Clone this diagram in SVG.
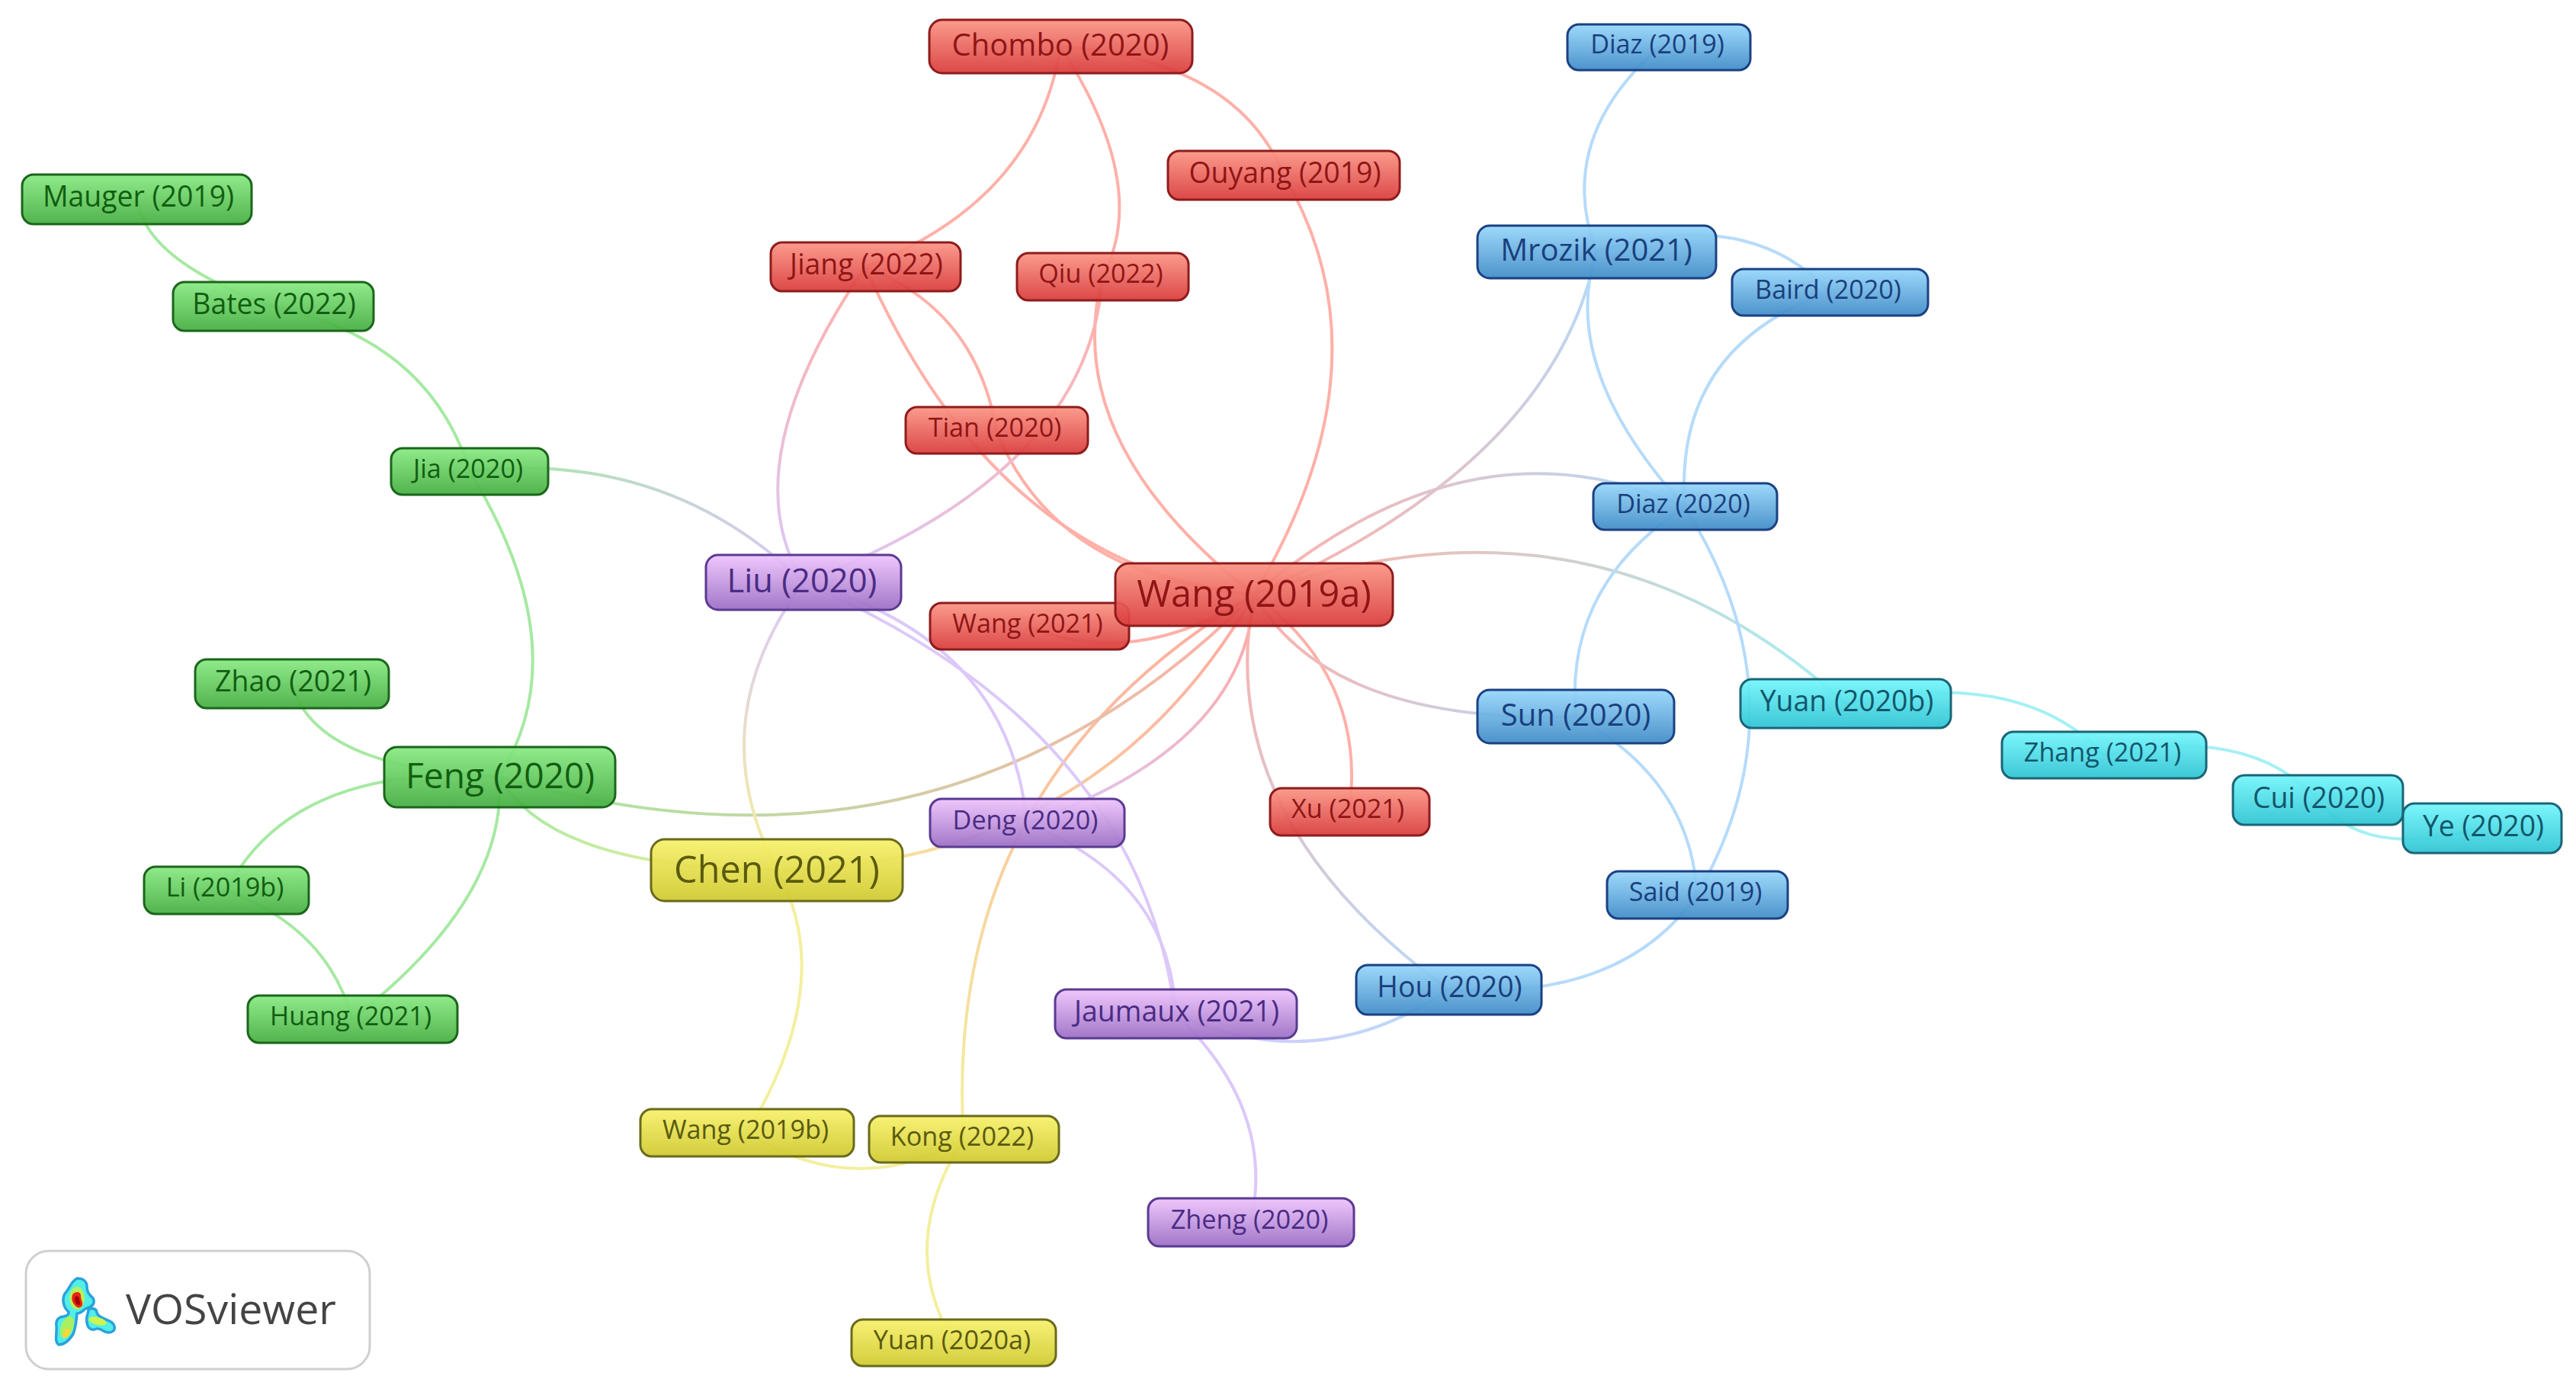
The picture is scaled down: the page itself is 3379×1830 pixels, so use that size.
<svg xmlns="http://www.w3.org/2000/svg" width="3379" height="1830" viewBox="0 0 3379 1830">
<style>
text{font-family:"Open Sans","Noto Sans","Liberation Sans",sans-serif;text-anchor:middle}
.e{fill:none;stroke-width:4;stroke-linecap:round}
.er{stroke:#ffb0a8}.eb{stroke:#b6dbfa}.eg{stroke:#a6e9a2}.ep{stroke:#dcc8f9}.ey{stroke:#f3ef9e}.ec{stroke:#a4f0f4}
.n{stroke-width:3;fill-opacity:.93}
.red rect{fill:url(#fr);stroke:#8e1c1c}.red text{fill:#8f1515}
.blue rect{fill:url(#fb);stroke:#1b4183}.blue text{fill:#1a3f7d}
.green rect{fill:url(#fg);stroke:#1b661b}.green text{fill:#115e11}
.purple rect{fill:url(#fp);stroke:#5a3a92}.purple text{fill:#4b2b84}
.yellow rect{fill:url(#fy);stroke:#6a6a1c}.yellow text{fill:#5a5a0e}
.cyan rect{fill:url(#fc);stroke:#1a6577}.cyan text{fill:#12566a}
.s1{font-size:34.2px;transform:translateX(-2px)}.s2{font-size:37.4px;transform:translateX(1.5px)}.s3{font-size:40px}.s4{font-size:43.5px;transform:translateX(-2px)}.s5{font-size:46.2px;transform:translateX(1px)}.s6{font-size:48.6px}
</style>
<defs>
<linearGradient id="fr" x1="0" y1="0" x2="0" y2="1"><stop offset="0" stop-color="#fb9485"/><stop offset="1" stop-color="#d93a3a"/></linearGradient>
<linearGradient id="fb" x1="0" y1="0" x2="0" y2="1"><stop offset="0" stop-color="#96d6fb"/><stop offset="1" stop-color="#3e8bc7"/></linearGradient>
<linearGradient id="fg" x1="0" y1="0" x2="0" y2="1"><stop offset="0" stop-color="#88e982"/><stop offset="1" stop-color="#44ae40"/></linearGradient>
<linearGradient id="fp" x1="0" y1="0" x2="0" y2="1"><stop offset="0" stop-color="#eec3fc"/><stop offset="1" stop-color="#9a6dc4"/></linearGradient>
<linearGradient id="fy" x1="0" y1="0" x2="0" y2="1"><stop offset="0" stop-color="#f7f16a"/><stop offset="1" stop-color="#cfc92e"/></linearGradient>
<linearGradient id="fc" x1="0" y1="0" x2="0" y2="1"><stop offset="0" stop-color="#72f6fb"/><stop offset="1" stop-color="#2dc3d3"/></linearGradient>
<linearGradient id="g1" gradientUnits="userSpaceOnUse" x1="1135" y1="350" x2="1054" y2="764"><stop offset="0" stop-color="#ffb0a8"/><stop offset="1" stop-color="#dcc8f9"/></linearGradient>
<linearGradient id="g2" gradientUnits="userSpaceOnUse" x1="1446" y1="363" x2="1054" y2="764"><stop offset="0" stop-color="#ffb0a8"/><stop offset="1" stop-color="#dcc8f9"/></linearGradient>
<linearGradient id="g3" gradientUnits="userSpaceOnUse" x1="1645" y1="780" x2="1347" y2="1080"><stop offset="0" stop-color="#ffa8a0"/><stop offset="1" stop-color="#dcc8f9"/></linearGradient>
<linearGradient id="g4" gradientUnits="userSpaceOnUse" x1="1645" y1="780" x2="1019" y2="1141"><stop offset="0" stop-color="#ffa8a0"/><stop offset="1" stop-color="#f3ef9e"/></linearGradient>
<linearGradient id="g5" gradientUnits="userSpaceOnUse" x1="1645" y1="780" x2="1264" y2="1494"><stop offset="0" stop-color="#ffa8a0"/><stop offset="1" stop-color="#f3ef9e"/></linearGradient>
<linearGradient id="g6" gradientUnits="userSpaceOnUse" x1="1645" y1="780" x2="655" y2="1019"><stop offset="0" stop-color="#ffb0a8"/><stop offset="1" stop-color="#a6e9a2"/></linearGradient>
<linearGradient id="g7" gradientUnits="userSpaceOnUse" x1="1645" y1="780" x2="1900" y2="1298"><stop offset="0" stop-color="#ffb0a8"/><stop offset="1" stop-color="#b6dbfa"/></linearGradient>
<linearGradient id="g8" gradientUnits="userSpaceOnUse" x1="1645" y1="780" x2="2067" y2="940"><stop offset="0" stop-color="#ffb0a8"/><stop offset="1" stop-color="#b6dbfa"/></linearGradient>
<linearGradient id="g9" gradientUnits="userSpaceOnUse" x1="1645" y1="780" x2="2094" y2="330"><stop offset="0" stop-color="#ffb0a8"/><stop offset="1" stop-color="#b6dbfa"/></linearGradient>
<linearGradient id="g10" gradientUnits="userSpaceOnUse" x1="1645" y1="780" x2="2210" y2="665"><stop offset="0" stop-color="#ffb0a8"/><stop offset="1" stop-color="#b6dbfa"/></linearGradient>
<linearGradient id="g11" gradientUnits="userSpaceOnUse" x1="1645" y1="780" x2="2421" y2="923"><stop offset="0" stop-color="#ffb0a8"/><stop offset="1" stop-color="#a4f0f4"/></linearGradient>
<linearGradient id="g12" gradientUnits="userSpaceOnUse" x1="1900" y1="1298" x2="1542" y2="1330"><stop offset="0" stop-color="#b6dbfa"/><stop offset="1" stop-color="#dcc8f9"/></linearGradient>
<linearGradient id="g13" gradientUnits="userSpaceOnUse" x1="616" y1="618" x2="1054" y2="764"><stop offset="0" stop-color="#a6e9a2"/><stop offset="1" stop-color="#dcc8f9"/></linearGradient>
<linearGradient id="g14" gradientUnits="userSpaceOnUse" x1="1054" y1="764" x2="1019" y2="1141"><stop offset="0" stop-color="#dcc8f9"/><stop offset="1" stop-color="#f3ef9e"/></linearGradient>
<linearGradient id="g15" gradientUnits="userSpaceOnUse" x1="655" y1="1019" x2="1019" y2="1141"><stop offset="0" stop-color="#a6e9a2"/><stop offset="1" stop-color="#f3ef9e"/></linearGradient>
</defs>
<rect width="3379" height="1830" fill="#fff"/>
<g id="connectors">
<path class="e er" d="M1391 61Q1360 262 1135 350"/>
<path class="e er" d="M1391 61Q1510 245 1446 363"/>
<path class="e er" d="M1391 61Q1623 79 1684 230"/>
<path class="e er" d="M1684 230Q1828 475 1645 780"/>
<path class="e" stroke="url(#g1)" d="M1135 350Q958 610 1054 764"/>
<path class="e er" d="M1135 350Q1281 407 1307 565"/>
<path class="e er" d="M1135 350Q1310 745 1645 780"/>
<path class="e er" d="M1307 565Q1384 758 1645 780"/>
<path class="e er" d="M1446 363Q1390 580 1645 780"/>
<path class="e" stroke="url(#g2)" d="M1446 363Q1430 620 1054 764"/>
<path class="e er" d="M1350 822Q1490 880 1645 780"/>
<path class="e" stroke="url(#g3)" d="M1645 780Q1634 980 1347 1080"/>
<path class="e" stroke="url(#g4)" d="M1645 780Q1440 1135 1019 1141"/>
<path class="e" stroke="url(#g5)" d="M1645 780Q1235 1023 1264 1494"/>
<path class="e" stroke="url(#g6)" d="M1645 780Q1240 1190 655 1019"/>
<path class="e er" d="M1645 780Q1793 888 1770 1065"/>
<path class="e" stroke="url(#g7)" d="M1645 780Q1588 1071 1900 1298"/>
<path class="e" stroke="url(#g8)" d="M1645 780Q1744 950 2067 940"/>
<path class="e" stroke="url(#g9)" d="M1645 780Q2040 605 2094 330"/>
<path class="e" stroke="url(#g10)" d="M1645 780Q1930 538 2210 665"/>
<path class="e" stroke="url(#g11)" d="M1645 780Q2087 620 2421 923"/>
<path class="e eb" d="M2176 62Q2039 184 2094 330"/>
<path class="e eb" d="M2094 330Q2293 268 2400 383"/>
<path class="e eb" d="M2094 330Q2044 483 2210 665"/>
<path class="e eb" d="M2400 383Q2195 456 2210 665"/>
<path class="e eb" d="M2210 665Q2052 768 2067 940"/>
<path class="e eb" d="M2210 665Q2372 921 2226 1174"/>
<path class="e eb" d="M2067 940Q2218 1023 2226 1174"/>
<path class="e eb" d="M2226 1174Q2127 1314 1900 1298"/>
<path class="e" stroke="url(#g12)" d="M1900 1298Q1729 1416 1542 1330"/>
<path class="e ep" d="M1054 764Q1324 838 1347 1080"/>
<path class="e ep" d="M1054 764Q1492 953 1542 1330"/>
<path class="e ep" d="M1347 1080Q1536 1155 1542 1330"/>
<path class="e ep" d="M1542 1330Q1673 1454 1641 1603"/>
<path class="e" stroke="url(#g13)" d="M616 618Q875 590 1054 764"/>
<path class="e" stroke="url(#g14)" d="M1054 764Q918 948 1019 1141"/>
<path class="e ey" d="M1019 1141Q1100 1287 980 1486"/>
<path class="e" stroke="url(#g15)" d="M655 1019Q723 1140 1019 1141"/>
<path class="e eg" d="M616 618Q759 852 655 1019"/>
<path class="e eg" d="M358 402Q563 446 616 618"/>
<path class="e eg" d="M180 261Q190 342 358 402"/>
<path class="e eg" d="M383 897Q412 1008 655 1019"/>
<path class="e eg" d="M655 1019Q384 1000 297 1168"/>
<path class="e eg" d="M297 1168Q430 1218 462 1337"/>
<path class="e eg" d="M655 1019Q666 1178 462 1337"/>
<path class="e ey" d="M980 1486Q1122 1576 1264 1494"/>
<path class="e ey" d="M1264 1494Q1175 1633 1251 1761"/>
<path class="e ec" d="M2421 923Q2650 874 2760 990"/>
<path class="e ec" d="M2760 990Q2950 950 3040 1049"/>
<path class="e ec" d="M3040 1049Q3102 1129 3256 1086"/>
</g>
<g id="n-chombo" class="red"><rect class="n" x="1219" y="26" width="345" height="70" rx="17"/><text class="s3" x="1391" y="73">Chombo (2020)</text></g>
<g id="n-ouyang" class="red"><rect class="n" x="1532" y="198" width="304" height="64" rx="15"/><text class="s2" x="1684" y="240">Ouyang (2019)</text></g>
<g id="n-jiang" class="red"><rect class="n" x="1011" y="318" width="249" height="64" rx="15"/><text class="s2" x="1135" y="360">Jiang (2022)</text></g>
<g id="n-qiu" class="red"><rect class="n" x="1334" y="332" width="225" height="62" rx="15"/><text class="s1" x="1446" y="371">Qiu (2022)</text></g>
<g id="n-tian" class="red"><rect class="n" x="1188" y="534" width="239" height="61" rx="15"/><text class="s1" x="1307" y="573">Tian (2020)</text></g>
<g id="n-wang2021" class="red"><rect class="n" x="1220" y="791" width="261" height="61" rx="15"/><text class="s1" x="1350" y="830">Wang (2021)</text></g>
<g id="n-wang2019a" class="red"><rect class="n" x="1463" y="739" width="364" height="82" rx="18"/><text class="s6" x="1645" y="796">Wang (2019a)</text></g>
<g id="n-xu" class="red"><rect class="n" x="1666" y="1034" width="209" height="62" rx="15"/><text class="s1" x="1770" y="1073">Xu (2021)</text></g>
<g id="n-diaz2019" class="blue"><rect class="n" x="2056" y="32" width="240" height="60" rx="15"/><text class="s1" x="2176" y="70">Diaz (2019)</text></g>
<g id="n-mrozik" class="blue"><rect class="n" x="1938" y="296" width="313" height="69" rx="16"/><text class="s3" x="2094" y="342">Mrozik (2021)</text></g>
<g id="n-baird" class="blue"><rect class="n" x="2272" y="353" width="257" height="61" rx="15"/><text class="s1" x="2400" y="392">Baird (2020)</text></g>
<g id="n-diaz2020" class="blue"><rect class="n" x="2090" y="634" width="241" height="61" rx="15"/><text class="s1" x="2210" y="673">Diaz (2020)</text></g>
<g id="n-sun" class="blue"><rect class="n" x="1938" y="905" width="258" height="70" rx="16"/><text class="s3" x="2067" y="952">Sun (2020)</text></g>
<g id="n-said" class="blue"><rect class="n" x="2108" y="1143" width="237" height="62" rx="15"/><text class="s1" x="2226" y="1182">Said (2019)</text></g>
<g id="n-hou" class="blue"><rect class="n" x="1779" y="1266" width="243" height="65" rx="15"/><text class="s2" x="1900" y="1308">Hou (2020)</text></g>
<g id="n-mauger" class="green"><rect class="n" x="29" y="229" width="301" height="65" rx="15"/><text class="s2" x="180" y="271">Mauger (2019)</text></g>
<g id="n-bates" class="green"><rect class="n" x="227" y="370" width="263" height="64" rx="15"/><text class="s2" x="358" y="412">Bates (2022)</text></g>
<g id="n-jia" class="green"><rect class="n" x="513" y="588" width="206" height="61" rx="15"/><text class="s1" x="616" y="627">Jia (2020)</text></g>
<g id="n-zhao" class="green"><rect class="n" x="256" y="865" width="254" height="64" rx="15"/><text class="s2" x="383" y="907">Zhao (2021)</text></g>
<g id="n-feng" class="green"><rect class="n" x="504" y="980" width="303" height="79" rx="17"/><text class="s5" x="655" y="1034">Feng (2020)</text></g>
<g id="n-li" class="green"><rect class="n" x="189" y="1137" width="216" height="62" rx="15"/><text class="s1" x="297" y="1176">Li (2019b)</text></g>
<g id="n-huang" class="green"><rect class="n" x="325" y="1306" width="275" height="62" rx="15"/><text class="s1" x="462" y="1345">Huang (2021)</text></g>
<g id="n-liu" class="purple"><rect class="n" x="926" y="728" width="256" height="72" rx="16"/><text class="s4" x="1054" y="777">Liu (2020)</text></g>
<g id="n-deng" class="purple"><rect class="n" x="1220" y="1048" width="255" height="63" rx="15"/><text class="s1" x="1347" y="1088">Deng (2020)</text></g>
<g id="n-jaumaux" class="purple"><rect class="n" x="1384" y="1298" width="317" height="64" rx="15"/><text class="s2" x="1542" y="1340">Jaumaux (2021)</text></g>
<g id="n-zheng" class="purple"><rect class="n" x="1506" y="1572" width="270" height="63" rx="15"/><text class="s1" x="1641" y="1612">Zheng (2020)</text></g>
<g id="n-chen" class="yellow"><rect class="n" x="854" y="1101" width="330" height="81" rx="18"/><text class="s6" x="1019" y="1158">Chen (2021)</text></g>
<g id="n-wang2019b" class="yellow"><rect class="n" x="840" y="1455" width="280" height="62" rx="15"/><text class="s1" x="980" y="1494">Wang (2019b)</text></g>
<g id="n-kong" class="yellow"><rect class="n" x="1140" y="1464" width="249" height="61" rx="15"/><text class="s1" x="1264" y="1503">Kong (2022)</text></g>
<g id="n-yuan2020a" class="yellow"><rect class="n" x="1117" y="1731" width="268" height="61" rx="15"/><text class="s1" x="1251" y="1770">Yuan (2020a)</text></g>
<g id="n-yuan2020b" class="cyan"><rect class="n" x="2283" y="891" width="276" height="64" rx="15"/><text class="s2" x="2421" y="933">Yuan (2020b)</text></g>
<g id="n-zhang" class="cyan"><rect class="n" x="2626" y="960" width="268" height="61" rx="15"/><text class="s1" x="2760" y="999">Zhang (2021)</text></g>
<g id="n-cui" class="cyan"><rect class="n" x="2929" y="1017" width="223" height="65" rx="15"/><text class="s2" x="3040" y="1060">Cui (2020)</text></g>
<g id="n-ye" class="cyan"><rect class="n" x="3152" y="1054" width="208" height="65" rx="15"/><text class="s2" x="3256" y="1097">Ye (2020)</text></g>
<g id="logo">
<rect x="34" y="1641" width="451" height="155" rx="30" fill="#fff" stroke="#cfcfcf" stroke-width="3"/>
<path fill="#52eee8" stroke="#2aa3da" stroke-width="3.5" stroke-linejoin="round" d="M101 1677C109 1677 114 1681 114 1688C114 1695 117 1698 122 1703C125 1709 122 1714 114 1716C109 1718 107 1723 101 1723C100 1731 100 1740 96 1750C91 1758 85 1764 77 1764C71 1760 75 1750 74 1740C73 1733 75 1730 79 1728C86 1726 90 1727 90 1721C83 1715 81 1705 85 1697C91 1691 93 1681 101 1677Z"/>
<path fill="#52eee8" stroke="#2aa3da" stroke-width="3.5" stroke-linejoin="round" d="M116 1718C121 1715 127 1717 127 1722C129 1729 140 1730 147 1735C152 1740 152 1747 143 1748C136 1749 134 1742 127 1743C120 1746 115 1743 114 1735C112 1728 116 1724 116 1718Z"/>
<ellipse cx="101" cy="1703" rx="10" ry="15" fill="#b4f25a"/>
<ellipse cx="88" cy="1741" rx="8" ry="15" fill="#a8f060" transform="rotate(20 88 1741)"/>
<ellipse cx="87" cy="1749" rx="4" ry="7" fill="#f6d83a" transform="rotate(30 87 1749)"/>
<ellipse cx="128" cy="1733" rx="12" ry="5" fill="#cdf550" transform="rotate(15 128 1733)"/>
<path fill="#ee2211" d="M96 1697C100 1694 106 1694 106 1700C106 1705 109 1708 108 1712C106 1717 101 1716 98 1712C94 1708 93 1701 96 1697Z"/>
<path fill="#9c0606" d="M99 1701C102 1699 104 1702 104 1705C105 1709 106 1711 103 1712C100 1712 96 1705 99 1701Z"/>
<text x="165" y="1737" style="font-size:55.4px;text-anchor:start;fill:#444">VOSviewer</text>
</g>
</svg>
